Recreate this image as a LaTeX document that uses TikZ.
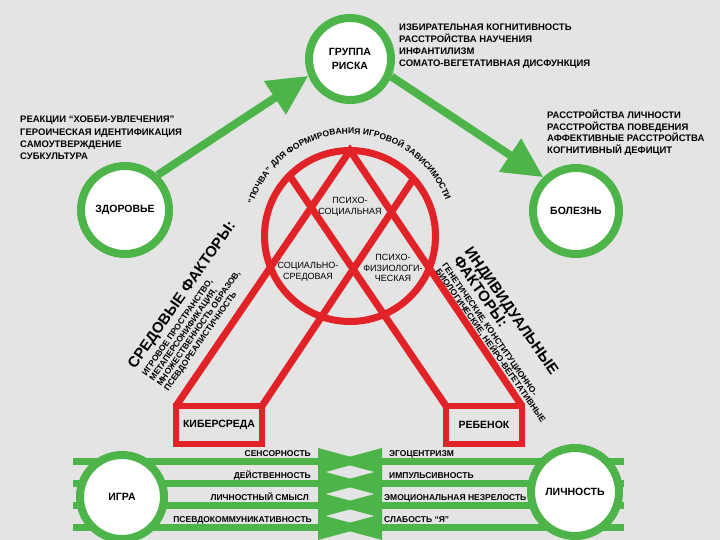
\documentclass[tikz,border=0pt]{standalone}
\usepackage{fontspec}
\setmainfont{Liberation Sans}
\usetikzlibrary{arrows.meta,decorations.text}
\definecolor{bg}{RGB}{228,228,228}
\definecolor{grn}{RGB}{76,180,72}
\definecolor{rd}{RGB}{225,35,40}
\begin{document}
\begin{tikzpicture}[x=1pt,y=-1pt,
  ring/.style={circle,draw=grn,line width=8pt,fill=white,inner sep=0pt,align=center,font=\bfseries\fontsize{10.5}{14}\selectfont},
  garrow/.style={draw=grn,line width=8pt,-{Triangle[length=40pt,width=38pt]}},
  gline/.style={draw=grn,line width=7pt},
  rline/.style={draw=rd,line width=7pt},
  rbox/.style={draw=rd,line width=6pt,inner sep=0pt,outer sep=0pt,font=\bfseries\fontsize{10.5}{12}\selectfont},
  lbl/.style={inner sep=0pt,anchor=base west,font=\bfseries\fontsize{9.5}{12}\selectfont},
  inlbl/.style={inner sep=0pt,align=center,font=\fontsize{9}{10.5}\selectfont},
  blbl/.style={inner sep=0pt,font=\bfseries\fontsize{8.5}{10}\selectfont},
  big/.style={inner sep=0pt,anchor=base west,font=\bfseries\fontsize{15}{18}\selectfont},
  sml/.style={inner sep=0pt,anchor=base west,font=\bfseries\fontsize{8.5}{10}\selectfont}
]
\fill[bg] (0,0) rectangle (720,540);
\useasboundingbox (0,0) rectangle (720,540);

% bottom bundles
\foreach \y in {461,483,505,527} {
  \draw[gline] (73,\y) -- (322,\y);
  \draw[gline] (378,\y) -- (624,\y);
  \fill[grn] (318,\y-13) -- (366,\y) -- (318,\y+13) -- cycle;
  \fill[grn] (382,\y-13) -- (334,\y) -- (382,\y+13) -- cycle;
}

% green circles
\node[ring,minimum size=82pt] (gr) at (350,59) {ГРУППА\\РИСКА};
\node[ring,minimum size=88pt] (zd) at (125,210) {ЗДОРОВЬЕ};
\node[ring,minimum size=86pt] (bo) at (576,211) {БОЛЕЗНЬ};
\node[ring,minimum size=84pt] (ig) at (122,497) {ИГРА};
\node[ring,minimum size=88pt] (li) at (575,492) {ЛИЧНОСТЬ};

\draw[garrow] (zd.47) -- (gr.202);
\draw[garrow] (gr.-23) -- (bo.134);

% red structure
\node[circle,draw=rd,line width=7pt,minimum size=171pt,inner sep=0pt,outer sep=0pt] (rc) at (350,236) {};
\node[rbox,minimum width=86pt,minimum height=38pt] (ks) at (219,425) {КИБЕРСРЕДА};
\node[rbox,minimum width=76pt,minimum height=38pt] (rb) at (484,425) {РЕБЕНОК};
\draw[rline,line join=miter] (ks.north west) -- (rc.north) -- (rb.north east);
\draw[rline] (rc.135) -- (rb.north west);
\draw[rline] (rc.42) -- (ks.north east);

\node[inlbl] (ps) at (350,207) {ПСИХО-\\СОЦИАЛЬНАЯ};
\node[inlbl] (ss) at (308,272) {СОЦИАЛЬНО-\\СРЕДОВАЯ};
\node[inlbl] (pf) at (393,268) {ПСИХО-\\ФИЗИОЛОГИ-\\ЧЕСКАЯ};

\path[decorate,decoration={text along path,text align=center,
  text={|\bfseries\fontsize{8.5}{10}\selectfont|“ПОЧВА” ДЛЯ ФОРМИРОВАНИЯ ИГРОВОЙ ЗАВИСИМОСТИ}}]
  (rc.center) ++(164:102pt) arc[start angle=164,end angle=18,radius=102pt];

% text blocks
\node[lbl] (a1) at (399,31) {ИЗБИРАТЕЛЬНАЯ КОГНИТИВНОСТЬ};
\node[lbl] (a2) at (399,43) {РАССТРОЙСТВА НАУЧЕНИЯ};
\node[lbl] (a3) at (399,55) {ИНФАНТИЛИЗМ};
\node[lbl] (a4) at (399,67) {СОМАТО-ВЕГЕТАТИВНАЯ ДИСФУНКЦИЯ};

\node[lbl] (b1) at (20,123) {РЕАКЦИИ “ХОББИ-УВЛЕЧЕНИЯ”};
\node[lbl] (b2) at (20,135.5) {ГЕРОИЧЕСКАЯ ИДЕНТИФИКАЦИЯ};
\node[lbl] (b3) at (20,148) {САМОУТВЕРЖДЕНИЕ};
\node[lbl] (b4) at (20,160) {СУБКУЛЬТУРА};

\node[lbl] (c1) at (547,118.5) {РАССТРОЙСТВА ЛИЧНОСТИ};
\node[lbl] (c2) at (547,130.5) {РАССТРОЙСТВА ПОВЕДЕНИЯ};
\node[lbl] (c3) at (547,142) {АФФЕКТИВНЫЕ РАССТРОЙСТВА};
\node[lbl] (c4) at (547,153.5) {КОГНИТИВНЫЙ ДЕФИЦИТ};

\begin{scope}[shift={(135,370)},rotate=55,transform shape]
  \node[big] (sf) at (0,0) {СРЕДОВЫЕ ФАКТОРЫ:};
  \node[sml] (s1) at (1,13) {ИГРОВОЕ ПРОСТРАНСТВО,};
  \node[sml] (s2) at (1,22) {МЕТАПЕРСОНИФИКАЦИЯ,};
  \node[sml] (s3) at (1,31) {МНОЖЕСТВЕННОСТЬ ОБРАЗОВ,};
  \node[sml] (s4) at (1,40) {ПСЕВДОРЕАЛИСТИЧНОСТЬ};
\end{scope}

\begin{scope}[shift={(473,245)},rotate=-55,transform shape]
  \node[big] (if) at (0,11) {ИНДИВИДУАЛЬНЫЕ};
  \node[big] (if2) at (1,25.5) {ФАКТОРЫ:};
  \node[sml] (i1) at (-1,37.5) {ГЕНЕТИЧЕСКИЕ, КОНСТИТУЦИОННО-};
  \node[sml] (i2) at (0,46) {БИОЛОГИЧЕСКИЕ, НЕЙРО-ВЕГЕТАТИВНЫЕ};
\end{scope}

% bottom labels
\node[blbl,anchor=base east] (l1) at (311,456) {СЕНСОРНОСТЬ};
\node[blbl,anchor=base east] (l2) at (311,478) {ДЕЙСТВЕННОСТЬ};
\node[blbl,anchor=base east] (l3) at (309,500) {ЛИЧНОСТНЫЙ СМЫСЛ};
\node[blbl,anchor=base east] (l4) at (312,522) {ПСЕВДОКОММУНИКАТИВНОСТЬ};

\node[blbl,anchor=base west] (r1) at (389,456) {ЭГОЦЕНТРИЗМ};
\node[blbl,anchor=base west] (r2) at (389,478) {ИМПУЛЬСИВНОСТЬ};
\node[blbl,anchor=base west] (r3) at (384,500) {ЭМОЦИОНАЛЬНАЯ НЕЗРЕЛОСТЬ};
\node[blbl,anchor=base west] (r4) at (384,522) {СЛАБОСТЬ “Я”};
\end{tikzpicture}
\end{document}
